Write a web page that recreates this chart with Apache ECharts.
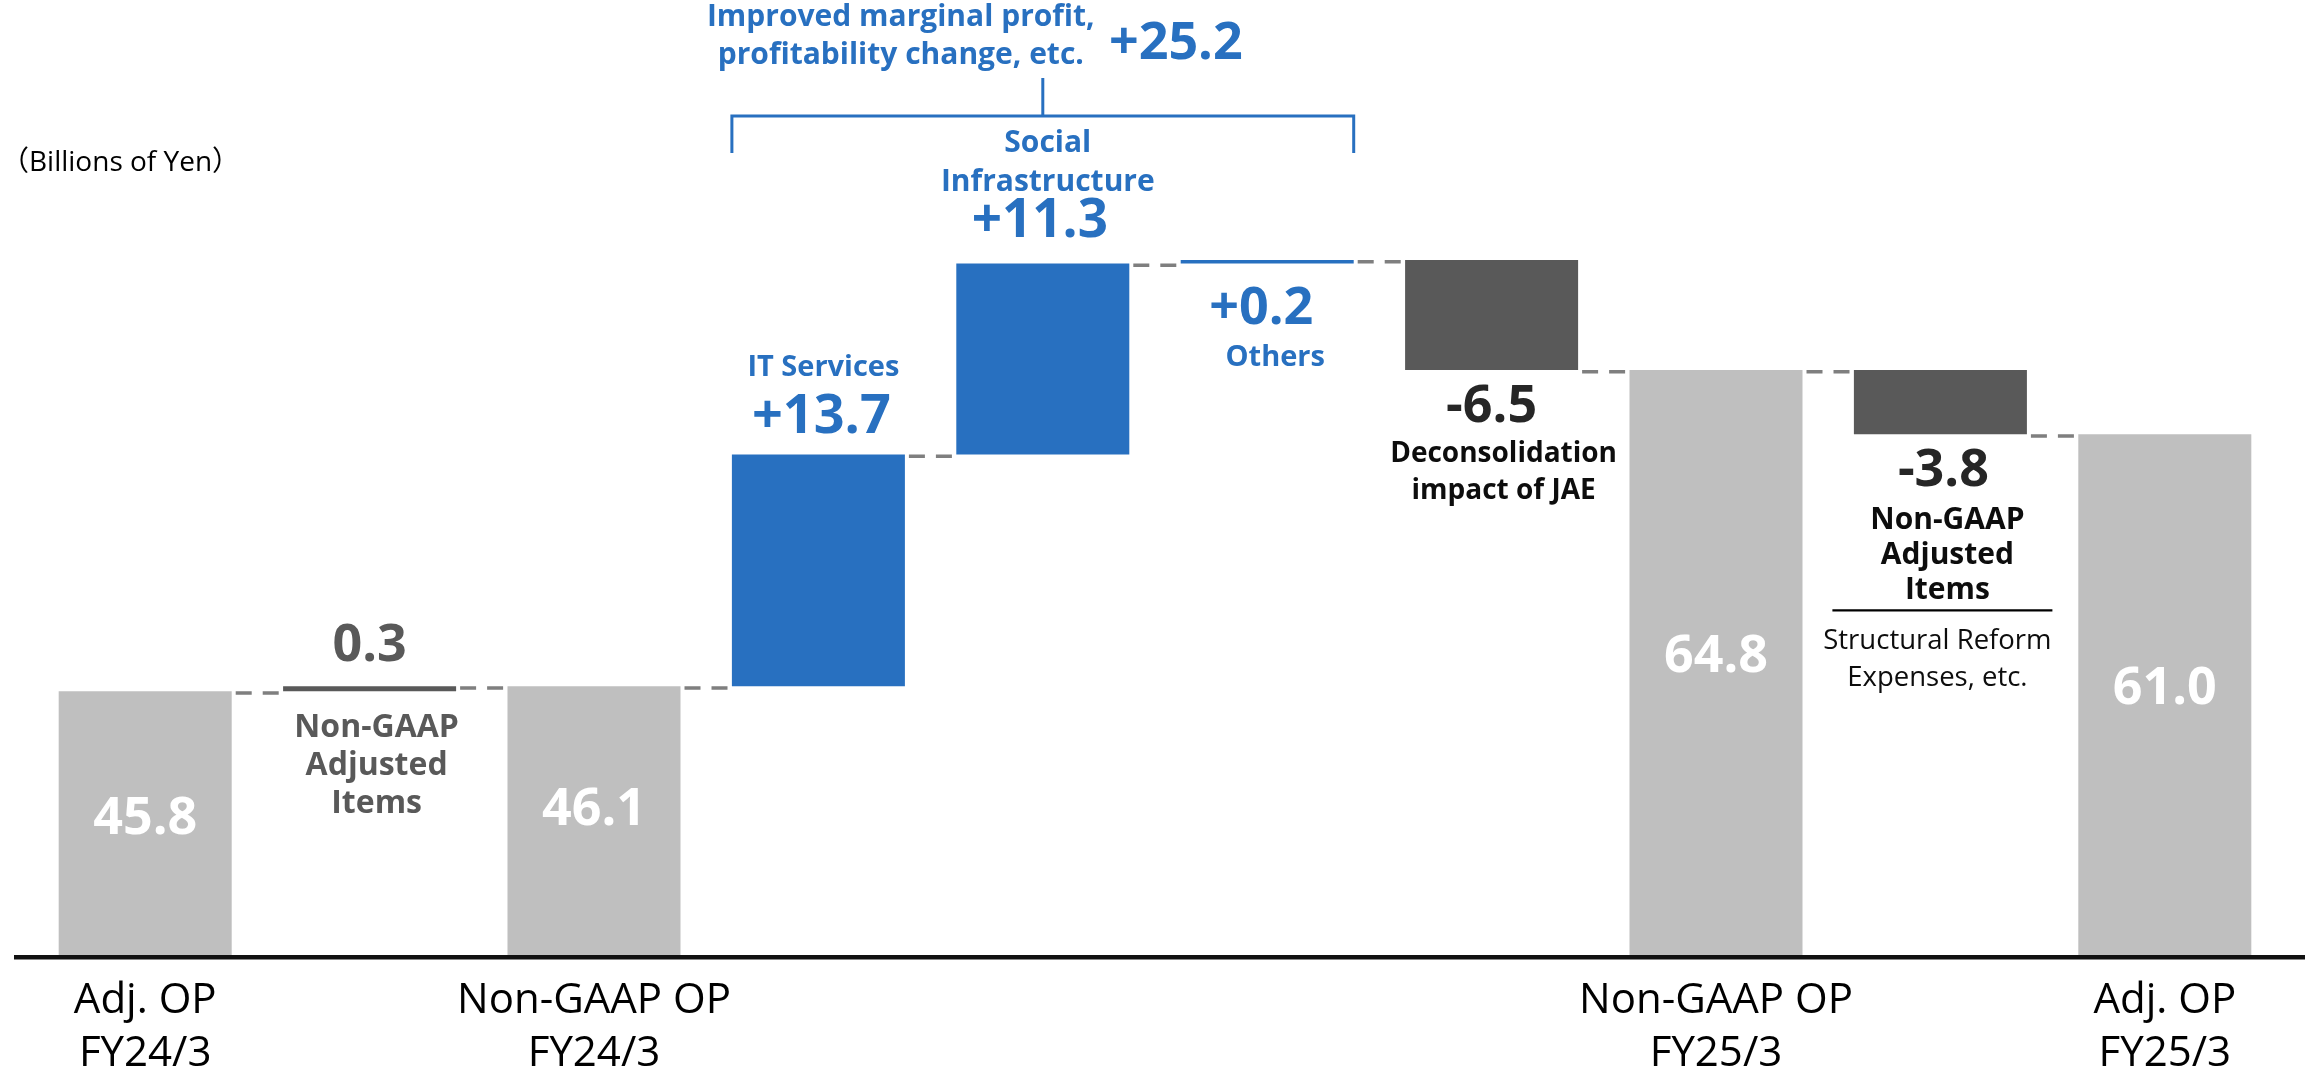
<!DOCTYPE html>
<html>
<head>
<meta charset="utf-8">
<script src="https://cdn.jsdelivr.net/npm/echarts@6/dist/echarts.min.js"></script>
<style>
html,body{margin:0;padding:0;background:#fff;}
#chart{width:2305px;height:1081px;}
</style>
</head>
<body>
<div id="chart"></div>
<script>
// ---------------- data ----------------
const categories = ['Adj. OP\nFY24/3', '', 'Non-GAAP OP\nFY24/3', '', '', '', '', 'Non-GAAP OP\nFY25/3', '', 'Adj. OP\nFY25/3'];
const totals = [45.8, null, 46.1, null, null, null, null, 64.8, null, 61.0];
const deltas = [null, 0.3, null, 13.7, 11.3, 0.2, -6.5, null, -3.8, null];
const kinds = ['total', 'adjust', 'total', 'gain', 'gain', 'gain', 'loss', 'total', 'adjust', 'total'];
const stepNames = ['', 'Non-GAAP\nAdjusted\nItems', '', 'IT Services', 'Social\nInfrastructure', 'Others', 'Deconsolidation\nimpact of JAE', '', 'Non-GAAP\nAdjusted\nItems', ''];
const stepNotes = ['', '', '', '', '', '', '', '', 'Structural Reform\nExpenses, etc.', ''];
const groupRange = [3, 5];
const groupName = 'Improved marginal profit,\nprofitability change, etc.';
const unitLabel = '（Billions of Yen）';

// ---------------- derived levels ----------------
const Y_MIN = 30.2, Y_MAX = 80;
const r1 = v => Math.round(v * 10) / 10;
const lows = [], highs = [], after = [];
let lvl = 0;
categories.forEach((_, i) => {
  if (totals[i] != null) { lows[i] = Y_MIN; highs[i] = totals[i]; lvl = totals[i]; }
  else { const n = r1(lvl + deltas[i]); lows[i] = Math.min(lvl, n); highs[i] = Math.max(lvl, n); lvl = n; }
  after[i] = lvl;
});
let groupSum = 0;
for (let i = groupRange[0]; i <= groupRange[1]; i++) groupSum += deltas[i];
const groupValue = '+' + r1(groupSum).toFixed(1);
const valueText = i => totals[i] != null ? totals[i].toFixed(1)
  : ((kinds[i] === 'gain' ? '+' : '') + deltas[i].toFixed(1));

// ---------------- styles ----------------
const FONT = "'Open Sans', 'Noto Sans', 'Noto Sans CJK JP', sans-serif";
const BLUE = '#2870C0';
const COLORS = { total: '#BFBFBF', adjust: '#595959', gain: BLUE, loss: '#595959' };
const BAR_RATIO = 0.771;
const BIG = 52;
// anchor: 'top' | 'bottom' | 'mid' of each bar; offsets in px
const layout = [
  { value: { a: 'mid', dy: -4, c: '#fff' } },
  { value: { a: 'top', dy: -40, c: '#595959' }, name: { a: 'bottom', dx: 7, dy: 75, c: '#595959', s: 32, lh: 38 } },
  { value: { a: 'mid', dy: -10, c: '#fff' } },
  { value: { a: 'top', dx: 3, dy: -37, c: BLUE, s: 54 }, name: { a: 'top', dx: 5, dy: -87, c: BLUE, s: 29 } },
  { value: { a: 'top', dx: -3, dy: -42, c: BLUE, s: 53 }, name: { a: 'top', dx: 5, dy: -101, c: BLUE, s: 30, lh: 39 } },
  { value: { a: 'bottom', dx: -6, dy: 46, c: BLUE }, name: { a: 'bottom', dx: 8, dy: 94, c: BLUE, s: 29 } },
  { value: { a: 'bottom', dy: 37, c: '#262626' }, name: { a: 'bottom', dx: 12, dy: 103, c: '#0d0d0d', s: 28, lh: 37 } },
  { value: { a: 'mid', dy: -5, c: '#fff' } },
  { value: { a: 'bottom', dx: 3, dy: 37, c: '#262626' }, name: { a: 'bottom', dx: 7, dy: 121, c: '#0d0d0d', s: 30, lh: 35 },
    rule: { a: 'bottom', dx: 2, dy: 176, half: 110 }, note: { a: 'bottom', dx: -3, dy: 225, c: '#0d0d0d', s: 27.5, lh: 37 } },
  { value: { a: 'mid', dy: -5, c: '#fff' } }
];

const chart = echarts.init(document.getElementById('chart'), null, { renderer: 'canvas' });

function anchorY(api, i, a) {
  const t = api.coord([i, highs[i]])[1];
  const b = api.coord([i, lows[i]])[1];
  return a === 'top' ? t : a === 'bottom' ? b : (t + b) / 2;
}
function textEl(x, y, text, c, s, w, lh) {
  return { type: 'text', style: { text: text, x: x, y: y, fill: c, fontSize: s, fontWeight: w, fontFamily: FONT,
    align: 'center', verticalAlign: 'middle', lineHeight: lh || s * 1.2 } };
}

const option = {
  animation: false,
  backgroundColor: '#fff',
  grid: { left: 33, right: 28, top: 113, bottom: 119 },
  xAxis: {
    type: 'category', data: categories,
    axisLine: { show: false }, axisTick: { show: false }, splitLine: { show: false },
    axisLabel: { interval: 0, color: '#000', fontSize: 42, lineHeight: 53, margin: 20, fontFamily: FONT }
  },
  yAxis: { type: 'value', min: Y_MIN, max: Y_MAX, show: false, splitLine: { show: false } },
  graphic: [{
    type: 'text', left: 1, top: 149,
    style: { text: unitLabel, fill: '#000', fontSize: 28, fontFamily: FONT }
  }],
  series: [
    { // baseline
      type: 'custom', silent: true, z: 1,
      data: [[0, Y_MIN]],
      renderItem: (params, api) => {
        const y = api.coord([0, Y_MIN])[1];
        return { type: 'rect', shape: { x: 14, y: y, width: api.getWidth() - 14, height: 4.5 }, style: { fill: '#111' } };
      }
    },
    { // bars
      type: 'custom', z: 2,
      data: categories.map((_, i) => [i, lows[i], highs[i]]),
      encode: { x: 0, y: [1, 2] },
      renderItem: (params, api) => {
        const i = api.value(0);
        const t = api.coord([i, api.value(2)]);
        const b = api.coord([i, api.value(1)]);
        const w = api.size([1, 0])[0] * BAR_RATIO;
        return { type: 'rect', shape: { x: t[0] - w / 2, y: t[1], width: w, height: b[1] - t[1] }, style: { fill: COLORS[kinds[i]] } };
      }
    },
    { // dashed connectors
      type: 'custom', z: 1,
      data: after.slice(0, -1).map((v, i) => [i, v]),
      renderItem: (params, api) => {
        const i = api.value(0), v = api.value(1);
        const a = api.coord([i, v]), b = api.coord([i + 1, v]);
        const w = api.size([1, 0])[0] * BAR_RATIO;
        const y = a[1] + 1.75;
        return { type: 'line', shape: { x1: a[0] + w / 2 + 4, y1: y, x2: b[0] - w / 2 - 4, y2: y },
          style: { stroke: '#7F7F7F', lineWidth: 3.5, lineDash: [16, 11] } };
      }
    },
    { // annotations per step
      type: 'custom', z: 3, silent: true,
      data: categories.map((_, i) => [i, highs[i]]),
      renderItem: (params, api) => {
        const i = api.value(0);
        const cx = api.coord([i, highs[i]])[0];
        const L = layout[i];
        const kids = [];
        if (L.value) {
          const v = L.value;
          kids.push(textEl(cx + (v.dx || 0), anchorY(api, i, v.a) + v.dy, valueText(i), v.c, v.s || BIG, 700, null));
        }
        if (L.name && stepNames[i]) {
          const n = L.name;
          kids.push(textEl(cx + (n.dx || 0), anchorY(api, i, n.a) + n.dy, stepNames[i], n.c, n.s, 700, n.lh));
        }
        if (L.rule) {
          const r = L.rule, y = anchorY(api, i, r.a) + r.dy;
          kids.push({ type: 'rect', shape: { x: cx + r.dx - r.half, y: y - 1, width: r.half * 2, height: 2.2 }, style: { fill: '#000' } });
        }
        if (L.note && stepNotes[i]) {
          const n = L.note;
          kids.push(textEl(cx + (n.dx || 0), anchorY(api, i, n.a) + n.dy, stepNotes[i], n.c, n.s, 400, n.lh));
        }
        return { type: 'group', children: kids };
      }
    },
    { // bracket over the gain group
      type: 'custom', z: 3, silent: true,
      data: [[groupRange[0], groupRange[1]]],
      renderItem: (params, api) => {
        const w = api.size([1, 0])[0] * BAR_RATIO;
        const x0 = api.coord([groupRange[0], Y_MAX])[0] - w / 2;
        const x1 = api.coord([groupRange[1], Y_MAX])[0] + w / 2;
        const xm = (api.coord([groupRange[0], Y_MAX])[0] + api.coord([groupRange[1], Y_MAX])[0]) / 2;
        const y = api.coord([0, Y_MAX])[1] + 3;
        const st = { stroke: BLUE, lineWidth: 3, fill: null };
        return { type: 'group', children: [
          { type: 'polyline', shape: { points: [[x0, y + 37], [x0, y], [x1, y], [x1, y + 37]] }, style: st },
          { type: 'line', shape: { x1: xm, y1: y, x2: xm, y2: y - 38 }, style: st },
          textEl(xm - 142, y - 80, groupName, BLUE, 30, 700, 38),
          textEl(xm + 133, y - 72, groupValue, BLUE, BIG, 700, null)
        ] };
      }
    }
  ]
};
chart.setOption(option);
</script>
</body>
</html>
